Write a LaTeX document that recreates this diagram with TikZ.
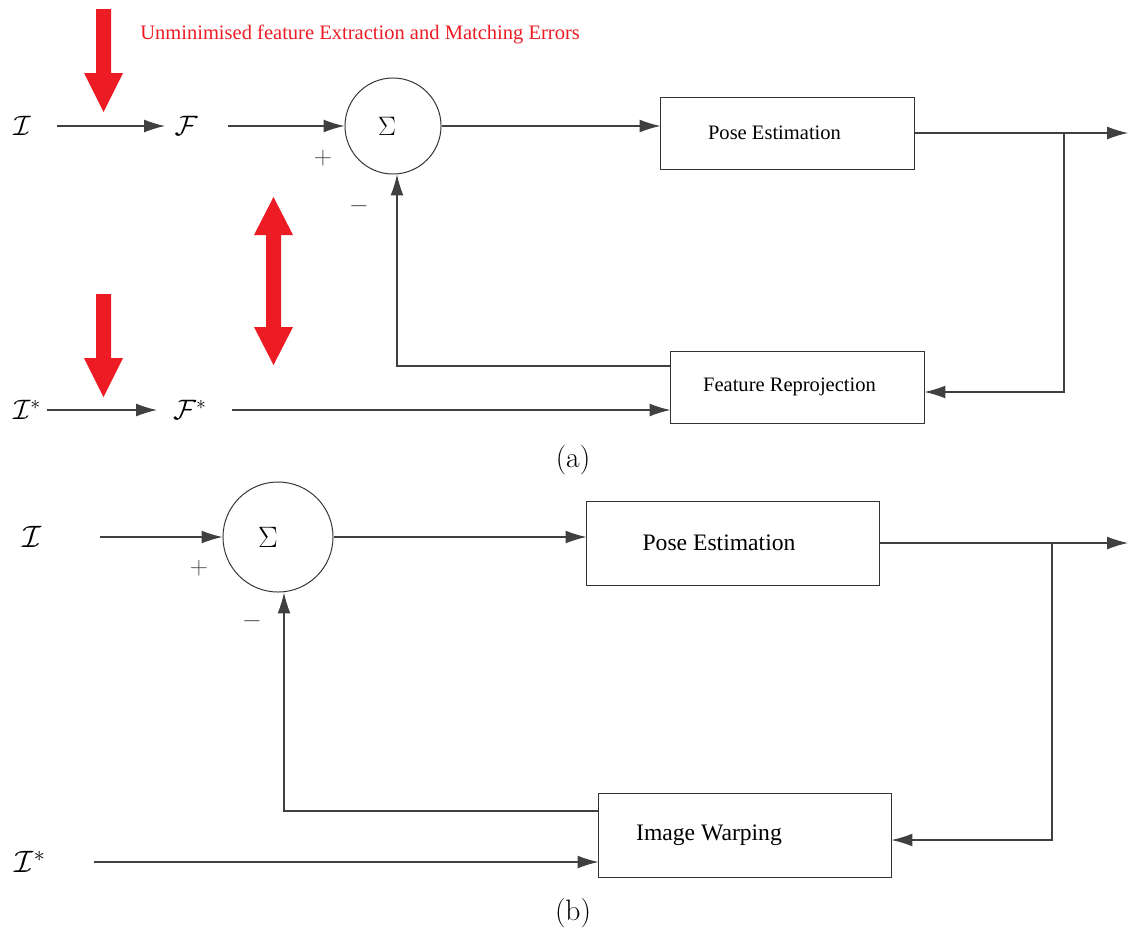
\RequirePackage{fix-cm}
\documentclass[tikz,border=0pt]{standalone}
\usepackage{fontspec}
\setmainfont{Liberation Serif}
\usetikzlibrary{positioning, calc, arrows.meta}
\definecolor{errred}{RGB}{237,28,36}

\begin{document}
\begin{tikzpicture}[x=0.025cm, y=-0.025cm,
    conn/.style={draw=black!75, line width=0.8pt, -{Latex[length=5.2mm,width=3.2mm]}},
    wire/.style={draw=black!75, line width=0.8pt},
    blockA/.style={draw=black!80, line width=0.7pt, minimum width=6.325cm, minimum height=1.8cm, font=\fontsize{14.6}{17}\selectfont},
    blockB/.style={draw=black!80, line width=0.7pt, minimum width=7.3cm, minimum height=2.1cm, font=\fontsize{16.8}{19}\selectfont},
    summer/.style={draw=black!80, line width=0.7pt, circle, inner sep=0pt, font=\fontsize{19}{22}\selectfont},
    sym/.style={inner sep=0pt, font=\fontsize{20}{22}\selectfont},
    sign/.style={inner sep=0pt, text=black!70, font=\fontsize{18}{20}\selectfont},
    caption/.style={inner sep=0pt, font=\fontfamily{lmr}\fontsize{21}{23}\selectfont}]
    \useasboundingbox (0,0) rectangle (1128,934);
    % (a)
    \node[sym] (imgA) at (22,126) {$\mathcal{I}$};
    \node[sym] (featA) at (186,126) {$\mathcal{F}$};
    \node[summer, minimum size=2.4cm] (sumA) at (393,126) {\hspace*{-0.3cm}$\Sigma$};
    \node[blockA] (poseA) at (787.5,133) {\hspace*{-0.65cm}Pose Estimation};
    \node[blockA] (reprojA) at (797.5,387) {\hspace*{-0.4cm}Feature Reprojection};
    \node[sym] (imgB) at (27,410) {$\mathcal{I}^{*}$};
    \node[sym] (featB) at (190,410) {$\mathcal{F}^{*}$};
    \node[sign] (plusA) at (323,158) {$+$};
    \node[sign] (minusA) at (359,206) {$-$};
    \node[anchor=west, inner sep=0pt, text=errred, font=\fontsize{14.6}{17}\selectfont] (errlbl) at (140,34) {Unminimised feature Extraction and Matching Errors};
    \node[caption] (capA) at (573,460) {(a)};
    \coordinate (brA) at (1064,133);
    \coordinate (outA) at (1128,133);
    \draw[conn] ([xshift=0.875cm]imgA.center) -- ([xshift=-0.525cm]featA.center);
    \draw[conn] ([xshift=1.05cm]featA.center) -- (featA -| sumA.west);
    \draw[conn] (sumA) -- (sumA -| poseA.west);
    \draw[wire] (poseA.east) -- (brA);
    \draw[conn] (brA) -- (outA);
    \draw[conn] (brA) |- ($(reprojA.east)+(0,5)$);
    \draw[conn] ($(reprojA.west)+(0,-21)$) -| ($(sumA.south)+(4,0)$);
    \draw[conn] ([xshift=0.5cm]imgB.center) -- ([xshift=-0.825cm]featB.center);
    \draw[conn] ([xshift=1.05cm]featB.center) -- (featB -| reprojA.west);
    \fill[errred] (96,9) -- (111,9) -- (111,73) -- (123,73) -- (103.5,112) -- (84,73) -- (96,73) -- cycle;
    \fill[errred] (96,294) -- (111,294) -- (111,358) -- (123,358) -- (103.5,397) -- (84,358) -- (96,358) -- cycle;
    \fill[errred] (273.5,197) -- (293,235) -- (281,235) -- (281,327) -- (293,327) -- (273.5,365) -- (254,327) -- (266,327) -- (266,235) -- (254,235) -- cycle;
    % (b)
    \node[sym, font=\fontsize{22}{24}\selectfont] (imgC) at (32,537) {$\mathcal{I}$};
    \node[summer, minimum size=2.75cm, font=\fontsize{21}{24}\selectfont] (sumB) at (278,537) {\hspace*{-0.5cm}$\Sigma$};
    \node[blockB] (poseB) at (733,543) {\hspace*{-0.7cm}Pose Estimation};
    \node[blockB] (warpB) at (745,835) {\hspace*{-1.8cm}Image Warping};
    \node[sym, font=\fontsize{22}{24}\selectfont] (imgD) at (30,862) {$\mathcal{I}^{*}$};
    \node[sign] (plusB) at (199,568) {$+$};
    \node[sign] (minusB) at (252,621) {$-$};
    \node[caption] (capB) at (573,913) {(b)};
    \coordinate (brB) at (1052,543);
    \coordinate (outB) at (1128,543);
    \draw[conn] ([xshift=1.7cm]imgC.center) -- (sumB);
    \draw[conn] (sumB) -- (sumB -| poseB.west);
    \draw[wire] (poseB.east) -- (brB);
    \draw[conn] (brB) -- (outB);
    \draw[conn] (brB) |- ($(warpB.east)+(0,5)$);
    \draw[conn] ($(warpB.west)+(0,-24)$) -| ($(sumB.south)+(6,0)$);
    \draw[conn] ([xshift=1.6cm]imgD.center) -- (imgD -| warpB.west);
\end{tikzpicture}
\end{document}
